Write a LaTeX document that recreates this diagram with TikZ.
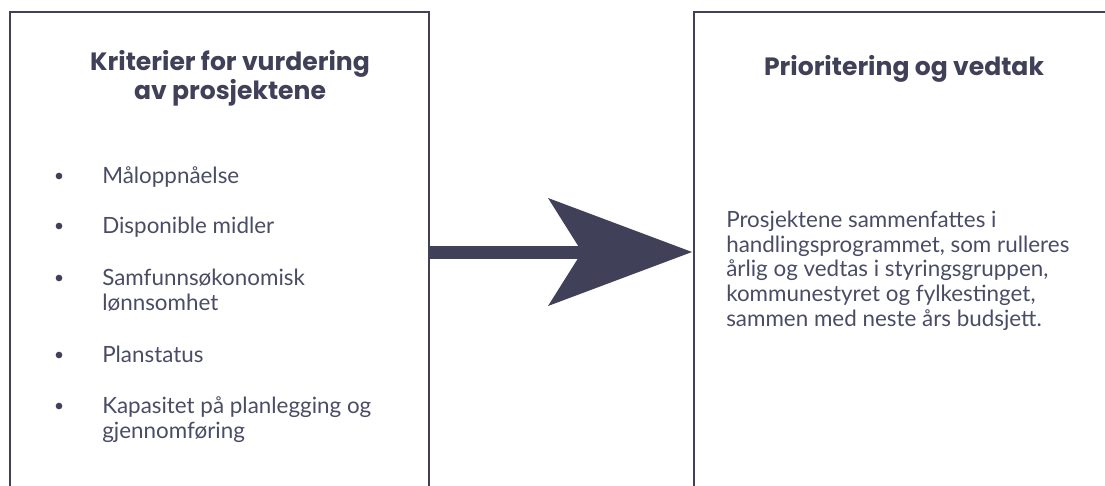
\documentclass[tikz,border=0pt]{standalone}
\usepackage{fontspec}
\setmainfont{Lato}
\newfontfamily\titlefont{Poppins}
\usetikzlibrary{arrows.meta}
\definecolor{navy}{HTML}{404159}
\definecolor{bodytext}{HTML}{4A4C66}

\begin{document}
\begin{tikzpicture}[x=0.75pt,y=-0.75pt,
  boxline/.style={navy,line width=1.6pt},
  title/.style={font=\titlefont\fontsize{18.8}{18.75}\selectfont\bfseries,text=navy,align=center,anchor=base,inner sep=0pt},
  item/.style={font=\fontsize{16.8}{18.4}\selectfont,text=bodytext,align=left,anchor=base west,inner sep=0pt},
  dot/.style={circle,fill=navy,inner sep=0pt,minimum size=5pt}]
\useasboundingbox (0,0) rectangle (1105,485);

% the two boxes, open at the bottom
\draw[boxline] (10,495) -- (10,12) -- (429,12) -- (429,495);
\draw[boxline] (694,495) -- (694,12) -- (1110,12);

% multi-line nodes sit on the baseline of their last line
\node[title] (crittitle) at (230,99) {Kriterier for vurdering\\av prosjektene};
\node[title] (priotitle) at (904,75) {Prioritering og vedtak};

\node[dot] (dot1) at (59,176) {};
\node[dot] (dot2) at (59,226) {};
\node[dot] (dot3) at (59,278) {};
\node[dot] (dot4) at (59,355) {};
\node[dot] (dot5) at (59,406) {};
\node[item] (crit1) at (102,183) {Måloppnåelse};
\node[item] (crit2) at (102,233) {Disponible midler};
\node[item] (crit3) at (102,310) {Samfunnsøkonomisk\\lønnsomhet};
\node[item] (crit4) at (102,362) {Planstatus};
\node[item] (crit5) at (102,438) {Kapasitet på planlegging og\\gjennomføring};

\node[item] (priotext) at (726,326) {Prosjektene sammenfattes i\\handlingsprogrammet, som rulleres\\årlig og vedtas i styringsgruppen,\\kommunestyret og fylkestinget,\\sammen med neste års budsjett.};

% the arrow between the boxes
\coordinate (leftside) at (430,252);
\coordinate (rightside) at (692,252);
\draw[navy,line width=9.75pt,-{Stealth[length=108pt,width=81pt,inset=25.5pt,line width=0pt]}] (leftside) -- (rightside);
\end{tikzpicture}
\end{document}
